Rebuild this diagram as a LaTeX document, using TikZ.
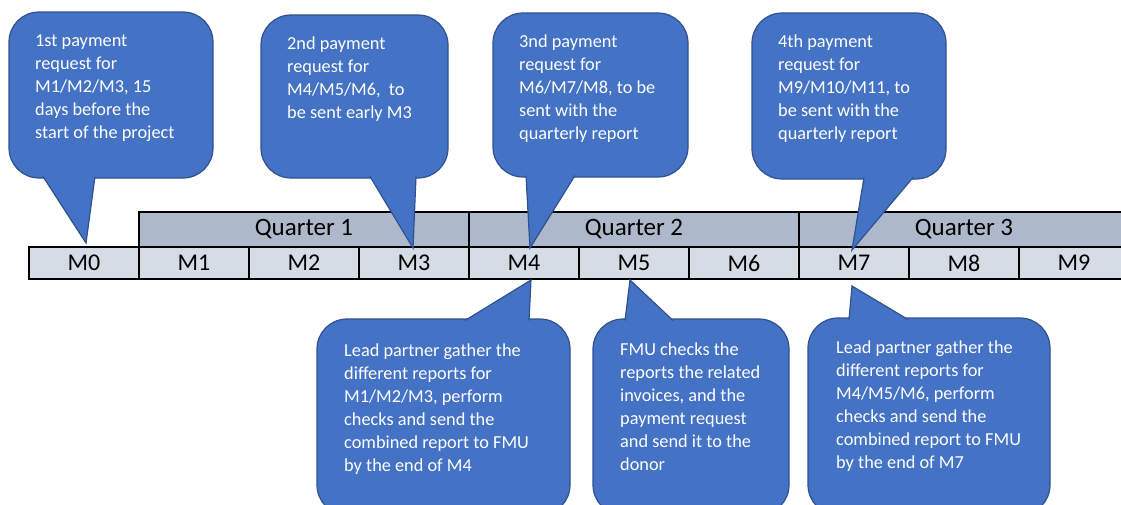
\documentclass[tikz,border=0pt]{standalone}
\usepackage{fontspec}
\setmainfont{Carlito}
\usepackage{tikz}
\usetikzlibrary{positioning}
\definecolor{calblue}{RGB}{68,114,196}
\definecolor{calline}{RGB}{47,82,143}
\definecolor{qgray}{RGB}{173,185,202}
\definecolor{mgray}{RGB}{214,220,229}

\tikzset{
  month/.style={draw=black, line width=1.3pt, fill=mgray, minimum width=110pt, minimum height=32pt, inner sep=0pt, font=\fontsize{24}{27}\selectfont},
  quarter/.style={draw=black, line width=1.3pt, fill=qgray, minimum width=330pt, minimum height=35pt, inner sep=0pt, font=\fontsize{25}{28}\selectfont},
  calbox/.style={draw=calline, line width=1.2pt, fill=calblue, rounded corners=30pt, inner sep=0pt},
  pointer/.style={draw=calline, line width=1.2pt, fill=calblue, line join=miter},
  caltext/.style={text=white, anchor=base west, align=left, inner sep=0pt, font=\fontsize{18.3}{23}\selectfont},
}

\begin{document}
\begin{tikzpicture}[x=1pt, y=-1pt]
  \useasboundingbox (0,0) rectangle (1121,504);
  \clip (0,0) rectangle (1121,504);

  % Timeline
  \foreach \q in {1,2,3}
    \node[quarter] (q\q) at (304+330*\q-330, 229.5) {Quarter \q};
  \foreach \i in {0,...,9}
    \node[month] (m\i) at (84+110*\i, 263) {M\i};

  % Pointer tips
  \coordinate (p1) at (86,243);
  \coordinate (p2) at (413,248);
  \coordinate (p3) at (530,248);
  \coordinate (p4) at (852,250);
  \coordinate (p5) at (531,280);
  \coordinate (p6) at (630,280);
  \coordinate (p7) at (852,286);

  % Payment requests (top)
  \node[calbox, minimum width=204pt, minimum height=166pt] (c1) at (111,95) {};
  \draw[pointer] (43,176.5) -- (p1) -- (95,176.5);
  \node[caltext] (t1) at (35,138) {1st payment\\request for\\M1/M2/M3, 15\\days before the\\start of the project};

  \node[calbox, minimum width=187pt, minimum height=163pt] (c2) at (354.5,96.5) {};
  \draw[pointer] (370,176.5) -- (p2) -- (416,176.5);
  \node[caltext] (t2) at (287,118) {2nd payment\\request for\\M4/M5/M6,\ \ to\\be sent early M3};

  \node[calbox, minimum width=195pt, minimum height=164pt] (c3) at (590.5,95) {};
  \draw[pointer] (526,175.5) -- (p3) -- (575,175.5);
  \node[caltext] (t3) at (519,139) {3nd payment\\request for\\M6/M7/M8, to be\\sent with the\\quarterly report};

  \node[calbox, minimum width=194pt, minimum height=166pt] (c4) at (849,96) {};
  \draw[pointer] (864,177.5) -- (p4) -- (913,177.5);
  \node[caltext] (t4) at (778,139) {4th payment\\request for\\M9/M10/M11, to\\be sent with the\\quarterly report};

  % Reporting steps (bottom)
  \node[calbox, minimum width=253pt, minimum height=196pt] (c5) at (443.5,417) {};
  \draw[pointer] (465,320.5) -- (p5) -- (529,320.5);
  \node[caltext] (t5) at (344,471) {Lead partner gather the\\different reports for\\M1/M2/M3, perform\\checks and send the\\combined report to FMU\\by the end of M4};

  \node[calbox, minimum width=196pt, minimum height=196pt] (c6) at (691,417) {};
  \draw[pointer] (625,320.5) -- (p6) -- (673,320.5);
  \node[caltext] (t6) at (620,470) {FMU checks the\\reports the related\\invoices, and the\\payment request\\and send it to the\\donor};

  \node[calbox, minimum width=242pt, minimum height=197pt] (c7) at (929,416.5) {};
  \draw[pointer] (849,319.5) -- (p7) -- (908,319.5);
  \node[caltext] (t7) at (836,468) {Lead partner gather the\\different reports for\\M4/M5/M6, perform\\checks and send the\\combined report to FMU\\by the end of M7};
\end{tikzpicture}
\end{document}
